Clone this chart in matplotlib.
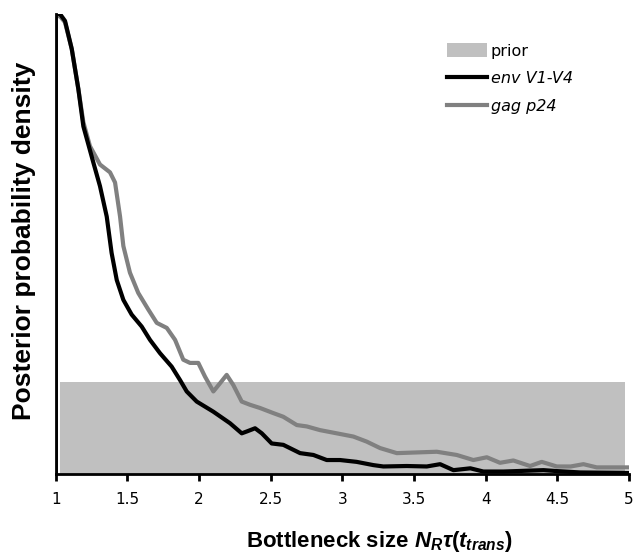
import matplotlib
matplotlib.use("Agg")
import matplotlib.pyplot as plt

# posterior density curves (normalised to peak = 1)
env_x = [1.0, 1.0, 1.03, 1.065, 1.112, 1.158, 1.193, 1.262, 1.309, 1.356, 1.390,
         1.426, 1.472, 1.530, 1.600, 1.658, 1.728, 1.809, 1.867, 1.914, 1.984,
         2.100, 2.216, 2.298, 2.333, 2.391, 2.438, 2.507, 2.588, 2.705, 2.798,
         2.891, 2.984, 3.100, 3.216, 3.286, 3.449, 3.589, 3.682, 3.775, 3.893,
         3.984, 4.124, 4.403, 4.496, 4.66, 5.0]
env_y = [0.0, 1.0, 1.0, 0.985, 0.924, 0.837, 0.756, 0.678, 0.626, 0.560, 0.481,
         0.422, 0.379, 0.347, 0.321, 0.292, 0.263, 0.234, 0.205, 0.180, 0.158,
         0.136, 0.111, 0.089, 0.093, 0.100, 0.089, 0.067, 0.064, 0.046, 0.042,
         0.031, 0.031, 0.027, 0.020, 0.017, 0.018, 0.017, 0.022, 0.009, 0.013,
         0.006, 0.006, 0.009, 0.007, 0.004, 0.003]

gag_x = [1.0, 1.0, 1.03, 1.065, 1.112, 1.158, 1.193, 1.239, 1.309, 1.379, 1.414,
         1.449, 1.472, 1.518, 1.576, 1.646, 1.705, 1.775, 1.833, 1.890, 1.937,
         1.995, 2.042, 2.100, 2.147, 2.193, 2.239, 2.298, 2.356, 2.426, 2.518,
         2.588, 2.682, 2.752, 2.844, 2.961, 3.077, 3.170, 3.263, 3.380, 3.659,
         3.798, 3.914, 4.008, 4.100, 4.193, 4.310, 4.391, 4.496, 4.593, 4.682,
         4.775, 5.0]
gag_y = [0.0, 0.996, 0.995, 0.982, 0.924, 0.837, 0.765, 0.713, 0.673, 0.656, 0.634,
         0.560, 0.496, 0.438, 0.394, 0.358, 0.329, 0.318, 0.292, 0.249, 0.242,
         0.242, 0.212, 0.180, 0.198, 0.216, 0.194, 0.158, 0.151, 0.144, 0.133,
         0.125, 0.107, 0.104, 0.096, 0.089, 0.082, 0.071, 0.057, 0.046, 0.049,
         0.042, 0.031, 0.037, 0.025, 0.030, 0.018, 0.027, 0.017, 0.017, 0.022,
         0.015, 0.015]

prior_x = [1.03, 4.97]
prior_y = [0.2, 0.2]

xticks = [1, 1.5, 2, 2.5, 3, 3.5, 4, 4.5, 5]
xtick_labels = ['1', '1.5', '2', '2.5', '3', '3.5', '4', '4.5', '5']

plt.rcParams['mathtext.fontset'] = 'custom'
plt.rcParams['mathtext.rm'] = 'Liberation Sans:bold'
plt.rcParams['mathtext.it'] = 'Liberation Sans:italic:bold'
plt.rcParams['mathtext.bf'] = 'Liberation Sans:bold'

fig = plt.figure(figsize=(6.33, 5.57), dpi=100)
ax = fig.add_axes([55.7 / 633, 82.7 / 557, (629 - 55.7) / 633, (474.3 - 14) / 557])

ax.fill_between(prior_x, prior_y, color='#c0c0c0', lw=0, zorder=1, label='prior')
ax.plot(env_x, env_y, color='black', lw=3, solid_joinstyle='round', zorder=3,
        label='env V1-V4')
ax.plot(gag_x, gag_y, color='#808080', lw=3, solid_joinstyle='round', zorder=2,
        label='gag p24')

ax.set_xlim(1, 5)
ax.set_ylim(0, 1.0)
ax.set_xticks(xticks)
ax.set_xticklabels(xtick_labels, fontsize=11, family='DejaVu Sans')
ax.set_yticks([])
ax.tick_params(axis='x', direction='out', length=5, width=2, pad=8)
for s in ['top', 'right']:
    ax.spines[s].set_visible(False)
for s in ['left', 'bottom']:
    ax.spines[s].set_linewidth(2)
    ax.spines[s].set_zorder(4)

fig.text(379 / 633, 1 - 547 / 557, r'Bottleneck size $N_R\tau(t_{trans})$',
         ha='center', va='baseline', fontsize=16, fontweight='bold',
         family='Liberation Sans')
fig.text(24 / 633, 1 - 241 / 557, 'Posterior probability density',
         ha='center', va='center', rotation=90, fontsize=19, fontweight='bold',
         family='Liberation Sans')

leg = ax.legend(loc='upper left', bbox_to_anchor=(447 / 633, 1 - 43 / 557),
                bbox_transform=fig.transFigure, frameon=False,
                prop={'family': 'DejaVu Sans', 'size': 11.5},
                handlelength=2.5, handleheight=1.0, handletextpad=0.25,
                labelspacing=0.75, borderpad=0, borderaxespad=0)
for t in leg.get_texts()[1:]:
    t.set_style('italic')

fig.savefig('out.png', dpi=100)
